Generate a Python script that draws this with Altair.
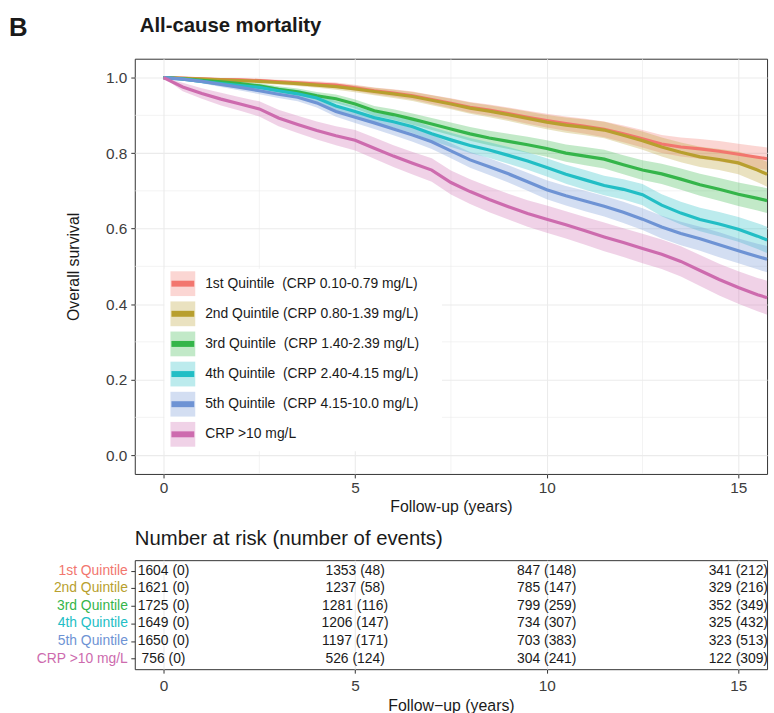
import altair as alt
import pandas as pd

FONT = "Liberation Sans"

panel_letter = "B"
main_title = "All-cause mortality"
table_title = "Number at risk (number of events)"
x_title_main = "Follow-up (years)"
x_title_table = "Follow\u2212up (years)"
y_title = "Overall survival"

groups = ["1st Quintile", "2nd Quintile", "3rd Quintile", "4th Quintile",
          "5th Quintile", "CRP >10 mg/L"]
legend_labels = ["1st Quintile\u00a0 (CRP 0.10-0.79 mg/L)",
                 "2nd Quintile (CRP 0.80-1.39 mg/L)",
                 "3rd Quintile\u00a0 (CRP 1.40-2.39 mg/L)",
                 "4th Quintile\u00a0 (CRP 2.40-4.15 mg/L)",
                 "5th Quintile\u00a0 (CRP 4.15-10.0 mg/L)",
                 "CRP >10 mg/L"]
colors = ["#F2766E", "#B89F2E", "#35B54A", "#22BEC5", "#6E93D4", "#CD6BAE"]

times = [0, 0.5, 1, 1.5, 2, 2.5, 3, 3.5, 4, 4.5, 5, 5.5, 6, 6.5, 7, 7.5, 8, 8.5,
         9, 9.5, 10, 10.5, 11, 11.5, 12, 12.5, 13, 13.5, 14, 14.5, 15, 15.5, 15.75]

surv_q1 = [1.0, 0.999, 0.997, 0.995, 0.994, 0.992, 0.989, 0.986, 0.983, 0.980, 0.973,
           0.965, 0.959, 0.952, 0.942, 0.932, 0.921, 0.914, 0.905, 0.895, 0.886, 0.878,
           0.871, 0.863, 0.851, 0.838, 0.824, 0.816, 0.811, 0.805, 0.797, 0.789, 0.785]
surv_q2 = [1.0, 0.998, 0.996, 0.994, 0.992, 0.990, 0.987, 0.984, 0.980, 0.976, 0.970,
           0.963, 0.957, 0.950, 0.940, 0.930, 0.919, 0.911, 0.902, 0.892, 0.882, 0.874,
           0.868, 0.861, 0.847, 0.833, 0.816, 0.802, 0.790, 0.783, 0.774, 0.755, 0.744]
surv_q3 = [1.0, 0.997, 0.993, 0.989, 0.984, 0.978, 0.969, 0.962, 0.952, 0.944, 0.930,
           0.912, 0.902, 0.890, 0.877, 0.864, 0.851, 0.840, 0.831, 0.822, 0.812, 0.800,
           0.792, 0.784, 0.769, 0.755, 0.745, 0.731, 0.716, 0.704, 0.691, 0.680, 0.674]
surv_q4 = [1.0, 0.996, 0.990, 0.984, 0.979, 0.974, 0.965, 0.957, 0.946, 0.925, 0.910,
           0.894, 0.883, 0.870, 0.851, 0.835, 0.820, 0.808, 0.794, 0.779, 0.762, 0.744,
           0.729, 0.714, 0.704, 0.690, 0.662, 0.641, 0.624, 0.612, 0.598, 0.580, 0.570]
surv_q5 = [1.0, 0.996, 0.990, 0.982, 0.974, 0.965, 0.956, 0.948, 0.933, 0.910, 0.895,
           0.880, 0.864, 0.848, 0.830, 0.806, 0.782, 0.764, 0.745, 0.724, 0.703, 0.687,
           0.673, 0.659, 0.643, 0.625, 0.604, 0.587, 0.573, 0.557, 0.541, 0.526, 0.519]
surv_crp = [1.0, 0.975, 0.958, 0.943, 0.930, 0.917, 0.893, 0.876, 0.860, 0.846, 0.834,
            0.813, 0.792, 0.773, 0.755, 0.722, 0.698, 0.677, 0.658, 0.640, 0.625, 0.610,
            0.594, 0.578, 0.563, 0.547, 0.532, 0.513, 0.489, 0.465, 0.444, 0.425, 0.417]

# half-width of the 95% confidence band
hw_q1 = [0, 0.002, 0.003, 0.004, 0.004, 0.005, 0.005, 0.006, 0.007, 0.007, 0.008,
         0.009, 0.010, 0.011, 0.012, 0.013, 0.014, 0.015, 0.016, 0.017, 0.018, 0.019,
         0.020, 0.021, 0.022, 0.023, 0.024, 0.025, 0.026, 0.027, 0.028, 0.029, 0.030]
hw_q2 = [0, 0.002, 0.003, 0.004, 0.004, 0.005, 0.006, 0.006, 0.007, 0.008, 0.009,
         0.010, 0.011, 0.012, 0.013, 0.014, 0.015, 0.016, 0.017, 0.018, 0.019, 0.020,
         0.021, 0.022, 0.023, 0.024, 0.025, 0.026, 0.027, 0.028, 0.030, 0.032, 0.033]
hw_q3 = [0, 0.002, 0.004, 0.005, 0.006, 0.007, 0.008, 0.009, 0.010, 0.011, 0.012,
         0.013, 0.014, 0.015, 0.016, 0.017, 0.018, 0.019, 0.020, 0.021, 0.022, 0.023,
         0.024, 0.025, 0.025, 0.026, 0.027, 0.028, 0.029, 0.030, 0.031, 0.032, 0.033]
hw_q4 = [0, 0.003, 0.005, 0.006, 0.007, 0.008, 0.009, 0.010, 0.011, 0.013, 0.014,
         0.015, 0.016, 0.017, 0.018, 0.019, 0.020, 0.021, 0.022, 0.023, 0.024, 0.025,
         0.026, 0.026, 0.027, 0.028, 0.029, 0.030, 0.031, 0.032, 0.033, 0.034, 0.035]
hw_q5 = [0, 0.003, 0.005, 0.007, 0.008, 0.009, 0.010, 0.011, 0.012, 0.014, 0.015,
         0.016, 0.017, 0.018, 0.019, 0.020, 0.021, 0.022, 0.023, 0.024, 0.025, 0.026,
         0.027, 0.027, 0.028, 0.029, 0.030, 0.031, 0.032, 0.033, 0.033, 0.034, 0.035]
hw_crp = [0, 0.011, 0.014, 0.017, 0.018, 0.020, 0.022, 0.023, 0.024, 0.025, 0.027,
          0.028, 0.029, 0.030, 0.031, 0.032, 0.033, 0.034, 0.034, 0.035, 0.036, 0.036,
          0.037, 0.038, 0.038, 0.039, 0.039, 0.040, 0.041, 0.042, 0.043, 0.044, 0.045]

# number at risk table
risk_times = [0, 5, 10, 15]
at_risk_q1 = [1604, 1353, 847, 341]
events_q1 = [0, 48, 148, 212]
at_risk_q2 = [1621, 1237, 785, 329]
events_q2 = [0, 58, 147, 216]
at_risk_q3 = [1725, 1281, 799, 352]
events_q3 = [0, 116, 259, 349]
at_risk_q4 = [1649, 1206, 734, 325]
events_q4 = [0, 147, 307, 432]
at_risk_q5 = [1650, 1197, 703, 323]
events_q5 = [0, 171, 383, 513]
at_risk_crp = [756, 526, 304, 122]
events_crp = [0, 124, 241, 309]

x_ticks = [0, 5, 10, 15]
y_ticks = [0.0, 0.2, 0.4, 0.6, 0.8, 1.0]
minor_x = [2.5, 7.5, 12.5]
minor_y = [0.1, 0.3, 0.5, 0.7, 0.9]

# ---------------- data tables ----------------
surv_all = [surv_q1, surv_q2, surv_q3, surv_q4, surv_q5, surv_crp]
hw_all = [hw_q1, hw_q2, hw_q3, hw_q4, hw_q5, hw_crp]
rows = []
for g, s_list, h_list in zip(groups, surv_all, hw_all):
    for t, s, h in zip(times, s_list, h_list):
        rows.append({"group": g, "t": t, "s": s, "lo": s - h, "hi": min(s + h, 1.0)})
km = pd.DataFrame(rows)

risk_all = [at_risk_q1, at_risk_q2, at_risk_q3, at_risk_q4, at_risk_q5, at_risk_crp]
ev_all = [events_q1, events_q2, events_q3, events_q4, events_q5, events_crp]
trows = []
for g, n_list, e_list in zip(groups, risk_all, ev_all):
    for t, n, e in zip(risk_times, n_list, e_list):
        trows.append({"group": g, "t": t, "txt": f"{n} ({e})"})
tbl = pd.DataFrame(trows)

leg_df = pd.DataFrame({"group": groups, "label": legend_labels})

# ---------------- scales / axes ----------------
xs = alt.Scale(domain=[-0.75, 15.75], nice=False, zero=False)
ys = alt.Scale(domain=[-0.05, 1.05], nice=False, zero=False)
cs = alt.Scale(domain=groups, range=colors)
col = alt.Color("group:N", scale=cs, legend=None)

x_axis = alt.Axis(values=x_ticks, title=x_title_main, grid=True, titlePadding=2)
y_axis = alt.Axis(values=y_ticks, format=".1f", title=y_title, grid=True,
                  titlePadding=24, orient="left", labelPadding=4)

grid_x = alt.Chart(pd.DataFrame({"v": minor_x})).mark_rule(
    color="#EBEBEB", strokeWidth=0.6).encode(x=alt.X("v:Q", scale=xs, axis=x_axis))
grid_y = alt.Chart(pd.DataFrame({"v": minor_y})).mark_rule(
    color="#EBEBEB", strokeWidth=0.6).encode(y=alt.Y("v:Q", scale=ys, axis=y_axis))

band = alt.Chart(km).mark_area(opacity=0.3).encode(
    x=alt.X("t:Q", scale=xs, axis=x_axis),
    y=alt.Y("lo:Q", scale=ys, axis=y_axis),
    y2="hi:Q",
    color=col,
)
curve = alt.Chart(km).mark_line(strokeWidth=3.2).encode(
    x=alt.X("t:Q", scale=xs, axis=x_axis),
    y=alt.Y("s:Q", scale=ys, axis=y_axis),
    color=col,
)
core = alt.layer(grid_x, grid_y, band, curve)

ly = alt.Y("group:N", sort=groups,
           scale=alt.Scale(type="point", range=[227, 379], padding=0), axis=None)
leg_bg = alt.Chart(pd.DataFrame({"k": [0]})).mark_rect(color="white").encode(
    x=alt.value(30), x2=alt.value(310), y=alt.value(212), y2=alt.value(396))
leg_sq = alt.Chart(leg_df).mark_square(size=625, opacity=0.3).encode(
    x=alt.value(48.5), y=ly, color=col)
leg_ln = alt.Chart(leg_df).mark_rule(strokeWidth=6).encode(
    x=alt.value(37), x2=alt.value(60), y=ly, color=col)
leg_tx = alt.Chart(leg_df).mark_text(
    align="left", baseline="middle", fontSize=14, font=FONT, color="#1a1a1a"
).encode(x=alt.value(71), y=ly, text="label:N")
legend = alt.layer(leg_bg, leg_sq, leg_ln, leg_tx)

ttl = alt.Chart(pd.DataFrame({"txt": [main_title]})).mark_text(
    align="left", baseline="alphabetic", fontSize=20.5, fontWeight="bold",
    font=FONT, color="#1a1a1a").encode(x=alt.value(5), y=alt.value(-27), text="txt:N")
letter = alt.Chart(pd.DataFrame({"txt": [panel_letter]})).mark_text(
    align="left", baseline="alphabetic", fontSize=26, fontWeight="bold",
    font=FONT, color="#1a1a1a").encode(x=alt.value(-127), y=alt.value(-23), text="txt:N")
anchor = alt.Chart(pd.DataFrame({"k": [0]})).mark_rule(opacity=0, strokeWidth=0).encode(
    x=alt.value(-135), x2=alt.value(-134), y=alt.value(-55))

main = alt.layer(core, legend, ttl, letter, anchor).resolve_scale(
    y="independent").properties(width=638, height=419)

# ---------------- risk table ----------------
tx = alt.X("t:Q", scale=xs, axis=alt.Axis(values=x_ticks, title=x_title_table,
                                           grid=True, labelPadding=6, titlePadding=3))
tyy = alt.Y("group:N", sort=groups, scale=alt.Scale(type="point", padding=0.6),
            axis=alt.Axis(labels=False, title=None, ticks=True, grid=False))
cells = alt.Chart(tbl).mark_text(fontSize=14, font=FONT, color="#1a1a1a").encode(
    x=tx, y=tyy, text="txt:N")
rowlab = alt.Chart(pd.DataFrame({"group": groups})).mark_text(
    align="right", baseline="middle", fontSize=14, font=FONT).encode(
    x=alt.value(-7), y=tyy, text="group:N", color=col)
ttitle = alt.Chart(pd.DataFrame({"txt": [table_title]})).mark_text(
    align="left", baseline="middle", fontSize=20.5, font=FONT, color="#1a1a1a").encode(
    x=alt.value(0), y=alt.value(-21), text="txt:N")
table = alt.layer(cells, rowlab, ttitle).properties(width=638, height=110)

chart = alt.vconcat(main, table, spacing=87, bounds="flush").properties(
    padding=0, background="white"
).configure_view(
    stroke="#333333", strokeWidth=1
).configure_axis(
    domain=False, labelFont=FONT, titleFont=FONT, labelFontSize=15.5,
    labelColor="#3D3D3D", titleFontSize=16, titleFontWeight="normal",
    titleColor="#1a1a1a", tickColor="#333333", tickSize=4, tickWidth=1,
    gridColor="#EBEBEB", gridWidth=1.1, labelPadding=3
).configure_text(font=FONT)

chart.save("out.html", embed_options={"renderer": "svg", "actions": False})
